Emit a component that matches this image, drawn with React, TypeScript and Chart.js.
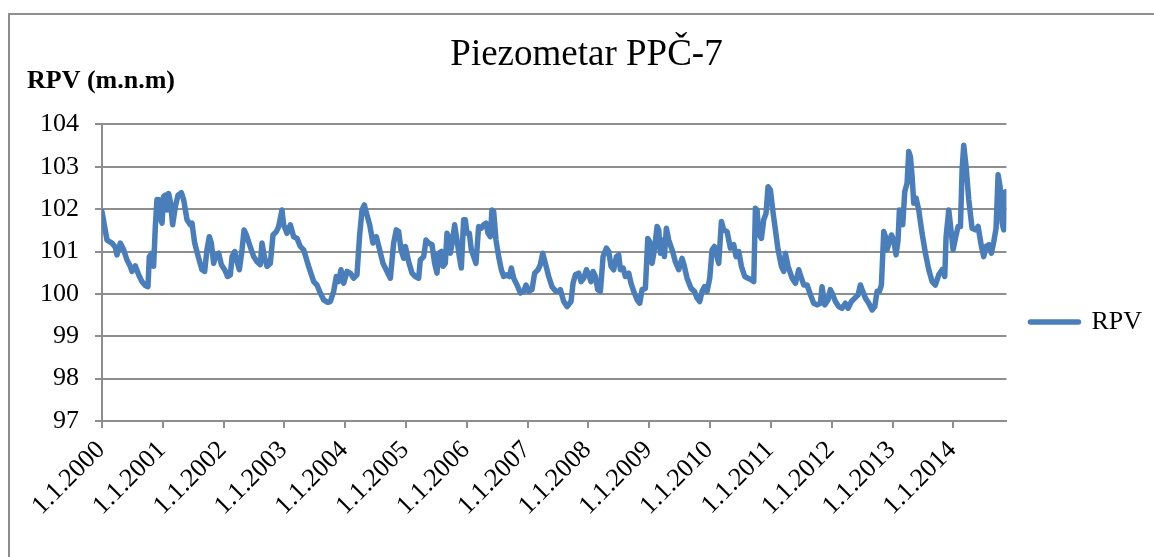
import React, { useEffect, useRef } from "react";
import { Chart, registerables } from "chart.js";

Chart.register(...registerables);

const TITLE = "Piezometar PPČ-7";
const Y_LABEL = "RPV (m.n.m)";
const SERIES_NAME = "RPV";

const yearTicks = [2000, 2001, 2002, 2003, 2004, 2005, 2006, 2007, 2008, 2009, 2010, 2011, 2012, 2013, 2014];
const yTicks = [97, 98, 99, 100, 101, 102, 103, 104];
const xStart = 2000;
const xEnd = 2014.873;

// measurement dates as decimal years
const dates = [
  2000.0, 2000.082, 2000.164, 2000.219, 2000.246, 2000.301, 2000.356, 2000.411, 2000.465, 2000.493, 2000.548, 2000.603, 2000.657, 2000.712, 2000.756, 2000.778, 2000.822, 2000.849, 2000.877, 2000.904, 2000.943, 2000.959, 2000.987,
  2001.014, 2001.041, 2001.069, 2001.096, 2001.124, 2001.162, 2001.206, 2001.25, 2001.305, 2001.343, 2001.398, 2001.452, 2001.48, 2001.524, 2001.59, 2001.644, 2001.688, 2001.726, 2001.765, 2001.798, 2001.836, 2001.874, 2001.918, 2001.963,
  2002.017, 2002.067, 2002.111, 2002.139, 2002.182, 2002.221, 2002.259, 2002.303, 2002.336, 2002.374, 2002.418, 2002.494, 2002.549, 2002.603, 2002.631, 2002.669, 2002.713, 2002.768, 2002.812, 2002.867, 2002.905, 2002.96, 2002.987,
  2003.042, 2003.097, 2003.152, 2003.207, 2003.261, 2003.316, 2003.398, 2003.481, 2003.535, 2003.59, 2003.645, 2003.711, 2003.755, 2003.81, 2003.853, 2003.892, 2003.93, 2003.974,
  2004.029, 2004.084, 2004.139, 2004.193, 2004.237, 2004.276, 2004.314, 2004.358, 2004.402, 2004.456, 2004.511, 2004.566, 2004.621, 2004.687, 2004.742, 2004.796, 2004.84, 2004.879, 2004.917, 2004.961, 2004.988,
  2005.043, 2005.098, 2005.152, 2005.207, 2005.235, 2005.29, 2005.328, 2005.372, 2005.427, 2005.47, 2005.509, 2005.536, 2005.58, 2005.608, 2005.646, 2005.673, 2005.701, 2005.728, 2005.767, 2005.799, 2005.838, 2005.876, 2005.909, 2005.947, 2005.975,
  2006.002, 2006.041, 2006.074, 2006.112, 2006.15, 2006.194, 2006.238, 2006.276, 2006.315, 2006.348, 2006.386, 2006.413, 2006.441, 2006.479, 2006.523, 2006.567, 2006.606, 2006.66, 2006.699, 2006.731, 2006.77, 2006.825, 2006.88, 2006.934, 2006.973,
  2007.017, 2007.071, 2007.115, 2007.17, 2007.209, 2007.247, 2007.291, 2007.346, 2007.4, 2007.466, 2007.521, 2007.538, 2007.593, 2007.648, 2007.713, 2007.746, 2007.785, 2007.84, 2007.878, 2007.922, 2007.966,
  2008.004, 2008.042, 2008.075, 2008.114, 2008.152, 2008.196, 2008.24, 2008.295, 2008.333, 2008.371, 2008.415, 2008.459, 2008.497, 2008.525, 2008.569, 2008.607, 2008.662, 2008.7, 2008.744, 2008.799, 2008.843, 2008.881, 2008.936, 2008.975,
  2009.007, 2009.046, 2009.084, 2009.128, 2009.155, 2009.183, 2009.21, 2009.249, 2009.281, 2009.32, 2009.375, 2009.429, 2009.484, 2009.539, 2009.577, 2009.621, 2009.687, 2009.742, 2009.786, 2009.83, 2009.868, 2009.907, 2009.95, 2009.994,
  2010.033, 2010.071, 2010.142, 2010.186, 2010.224, 2010.279, 2010.334, 2010.389, 2010.427, 2010.471, 2010.515, 2010.57, 2010.624, 2010.679, 2010.718, 2010.745, 2010.772, 2010.8, 2010.844, 2010.882, 2010.92, 2010.953, 2010.992,
  2011.03, 2011.074, 2011.118, 2011.173, 2011.211, 2011.238, 2011.282, 2011.348, 2011.403, 2011.458, 2011.502, 2011.54, 2011.595, 2011.65, 2011.704, 2011.759, 2011.814, 2011.841, 2011.885, 2011.94, 2011.978,
  2012.017, 2012.061, 2012.115, 2012.17, 2012.225, 2012.269, 2012.324, 2012.379, 2012.434, 2012.472, 2012.51, 2012.554, 2012.609, 2012.664, 2012.708, 2012.746, 2012.784, 2012.817, 2012.856, 2012.883, 2012.91, 2012.949, 2012.982,
  2013.02, 2013.058, 2013.091, 2013.113, 2013.146, 2013.168, 2013.201, 2013.239, 2013.267, 2013.294, 2013.322, 2013.349, 2013.387, 2013.431, 2013.486, 2013.541, 2013.596, 2013.651, 2013.705, 2013.76, 2013.815, 2013.859, 2013.881, 2013.925, 2013.968, 2013.996,
  2014.034, 2014.078, 2014.117, 2014.144, 2014.171, 2014.21, 2014.254, 2014.308, 2014.363, 2014.407, 2014.462, 2014.5, 2014.539, 2014.583, 2014.626, 2014.665, 2014.703, 2014.736, 2014.769, 2014.802, 2014.829, 2014.857, 2014.873,
];

// RPV (m.n.m)
const rpv = [
  101.94, 101.27, 101.2, 101.1, 100.92, 101.2, 101.04, 100.8, 100.65, 100.53, 100.66, 100.45, 100.29, 100.2, 100.17, 100.88, 100.96, 100.65, 101.59, 102.23, 102.22, 101.78, 101.67,
  102.3, 102.33, 101.98, 102.37, 102.18, 101.63, 102.06, 102.33, 102.39, 102.22, 101.75, 101.63, 101.67, 101.2, 100.84, 100.57, 100.53, 101.04, 101.35, 101.2, 100.72, 100.92, 100.96, 100.69,
  100.57, 100.41, 100.45, 100.88, 101.0, 100.76, 100.57, 101.04, 101.51, 101.39, 101.2, 100.88, 100.76, 100.69, 101.2, 100.88, 100.65, 100.72, 101.39, 101.47, 101.59, 101.98, 101.63,
  101.43, 101.63, 101.35, 101.31, 101.12, 101.04, 100.65, 100.29, 100.21, 100.02, 99.86, 99.8, 99.82, 100.06, 100.41, 100.29, 100.57, 100.25,
  100.53, 100.49, 100.37, 100.45, 101.39, 101.98, 102.1, 101.86, 101.63, 101.2, 101.35, 101.04, 100.72, 100.53, 100.37, 101.2, 101.51, 101.47, 101.04, 100.84, 101.12,
  100.76, 100.49, 100.41, 100.37, 100.8, 100.88, 101.27, 101.2, 101.16, 100.72, 100.49, 100.96, 101.0, 100.65, 100.72, 101.43, 101.35, 100.96, 101.27, 101.63, 101.27, 100.88, 100.61, 101.75, 101.75,
  101.43, 101.43, 101.04, 100.88, 100.72, 101.59, 101.55, 101.63, 101.67, 101.43, 101.35, 101.98, 101.94, 101.27, 100.88, 100.57, 100.41, 100.45, 100.41, 100.61, 100.37, 100.21, 100.02, 100.06, 100.21,
  100.06, 100.1, 100.49, 100.57, 100.69, 100.96, 100.72, 100.41, 100.17, 100.06, 100.06, 100.1, 99.82, 99.7, 99.82, 100.25, 100.45, 100.49, 100.29, 100.37, 100.57,
  100.45, 100.29, 100.53, 100.41, 100.1, 100.06, 100.88, 101.08, 101.0, 100.65, 100.57, 100.88, 100.92, 100.57, 100.61, 100.41, 100.49, 100.25, 100.06, 99.86, 99.78, 100.1, 100.13, 101.31,
  101.23, 100.72, 101.04, 101.59, 101.51, 100.96, 101.27, 100.88, 101.55, 101.27, 101.04, 100.76, 100.57, 100.84, 100.65, 100.37, 100.13, 100.06, 99.9, 99.82, 100.06, 100.17, 100.06, 100.37,
  101.04, 101.12, 100.72, 101.71, 101.51, 101.47, 101.08, 101.16, 100.88, 101.0, 100.65, 100.41, 100.37, 100.33, 100.29, 102.02, 101.98, 101.43, 101.31, 101.75, 101.9, 102.53, 102.45,
  101.98, 101.51, 101.04, 100.65, 100.53, 100.96, 100.65, 100.37, 100.25, 100.57, 100.37, 100.21, 100.21, 99.98, 99.78, 99.74, 99.78, 100.17, 99.74, 99.86, 100.1,
  99.98, 99.82, 99.7, 99.66, 99.78, 99.66, 99.82, 99.9, 99.98, 100.21, 100.06, 99.9, 99.78, 99.62, 99.7, 100.06, 100.06, 100.21, 101.47, 101.35, 101.04, 101.23, 101.39,
  101.27, 100.92, 101.27, 101.98, 101.94, 101.63, 102.41, 102.61, 103.36, 103.24, 102.77, 102.14, 102.26, 101.98, 101.43, 100.96, 100.57, 100.29, 100.21, 100.45, 100.57, 100.41, 101.35, 101.98, 101.43, 101.04,
  101.31, 101.59, 101.59, 102.92, 103.51, 103.0, 102.22, 101.55, 101.51, 101.59, 101.12, 100.88, 101.12, 101.16, 100.96, 101.23, 101.55, 102.81, 102.53, 101.67, 101.51, 102.41, 101.94,
];

const FONT = "'Liberation Serif', 'Times New Roman', serif";
const GRID = "#8e8e8e";
const LINE = "#4a7ebb";

export default function App() {
  const ref = useRef<HTMLCanvasElement | null>(null);

  useEffect(() => {
    if (!ref.current) return;
    const yLabelPlugin = {
      id: "yAxisTopLabel",
      afterDraw(chart: any) {
        const { ctx, chartArea } = chart;
        ctx.save();
        ctx.font = `bold 26px ${FONT}`;
        ctx.fillStyle = "#000";
        ctx.textAlign = "left";
        ctx.textBaseline = "alphabetic";
        ctx.fillText(Y_LABEL, chartArea.left - 75, chartArea.top - 36);
        ctx.restore();
      },
    };

    const chart = new Chart(ref.current, {
      type: "line",
      data: {
        datasets: [
          {
            label: SERIES_NAME,
            data: dates.map((d, i) => ({ x: d, y: rpv[i] })),
            borderColor: LINE,
            backgroundColor: LINE,
            borderWidth: 5.5,
            pointRadius: 0,
            tension: 0,
            borderJoinStyle: "round",
            borderCapStyle: "round",
          },
        ],
      },
      options: {
        responsive: false,
        animation: false,
        events: [],
        layout: { padding: { left: 13, right: 0, top: 0, bottom: 0 } },
        plugins: {
          title: {
            display: true,
            text: TITLE,
            color: "#000",
            font: { family: FONT, size: 37, weight: "normal" },
            padding: { top: 20, bottom: 47 },
          },
          legend: {
            position: "right",
            labels: {
              color: "#000",
              font: { family: FONT, size: 26 },
              boxWidth: 48,
              boxHeight: 0,
              padding: 24,
            },
          },
          tooltip: { enabled: false },
        },
        scales: {
          x: {
            type: "linear",
            min: xStart,
            max: xEnd,
            afterBuildTicks: (s: any) => {
              s.ticks = yearTicks.map((v) => ({ value: v }));
            },
            afterFit: (s: any) => {
              s.height = 210;
            },
            ticks: {
              autoSkip: false,
              minRotation: 45,
              maxRotation: 45,
              labelOffset: -1,
              padding: 7,
              color: "#000",
              font: { family: FONT, size: 26 },
              callback: (v: any) => "1.1." + Math.round(Number(v)),
            },
            grid: { drawOnChartArea: false, drawTicks: true, tickLength: 7, color: GRID, lineWidth: 2 },
            border: { color: GRID, width: 2 },
          },
          y: {
            min: yTicks[0],
            max: yTicks[yTicks.length - 1],
            afterBuildTicks: (s: any) => {
              s.ticks = yTicks.map((v) => ({ value: v }));
            },
            afterFit: (s: any) => {
              s.width = 81;
            },
            ticks: {
              padding: 16,
              color: "#000",
              font: { family: FONT, size: 26 },
            },
            grid: { color: GRID, lineWidth: 2, tickLength: 7 },
            border: { color: GRID, width: 2 },
          },
        },
      },
      plugins: [yLabelPlugin],
    } as any);

    return () => chart.destroy();
  }, []);

  return (
    <div style={{ position: "fixed", left: 0, top: 0, width: 1154, height: 557, overflow: "hidden", background: "#fff" }}>
      <canvas
        ref={ref}
        width={1144}
        height={618}
        style={{ position: "absolute", left: 8, top: 13, width: 1144, height: 618 }}
      />
      <div
        style={{
          position: "absolute",
          left: 8,
          top: 13,
          width: 2000,
          height: 2000,
          borderLeft: "2px solid #8e8e8e",
          borderTop: "2px solid #8e8e8e",
          pointerEvents: "none",
        }}
      />
    </div>
  );
}
